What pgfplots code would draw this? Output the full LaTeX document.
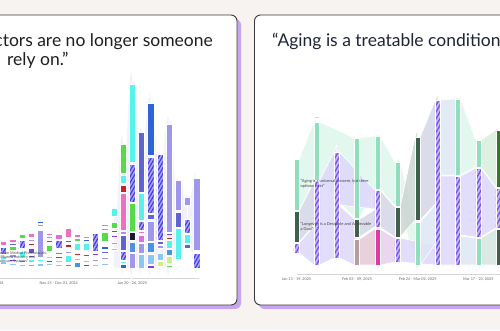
\documentclass[border=0pt]{standalone}
\usepackage{pgfplots}
\pgfplotsset{compat=1.18}
\usetikzlibrary{patterns.meta}
\usepackage{fontspec}
\setmainfont{Lato}
\definecolor{bgc}{HTML}{F7F3F1}
\definecolor{shd}{HTML}{C7A5EF}
\definecolor{brd}{HTML}{3A3A3A}
\definecolor{pk}{HTML}{EE6FC0}
\definecolor{gr}{HTML}{55DB46}
\definecolor{cy}{HTML}{58F2EE}
\definecolor{rd}{HTML}{C42323}
\definecolor{nv}{HTML}{1E1833}
\definecolor{lv}{HTML}{9E97EA}
\definecolor{mb}{HTML}{5E64D2}
\definecolor{bl}{HTML}{3064D6}
\definecolor{bt}{HTML}{4B92E2}
\definecolor{lb}{HTML}{88C8F2}
\definecolor{lm}{HTML}{CDEE82}
\definecolor{pu}{HTML}{7A40E0}
\definecolor{mg}{HTML}{DD6CE6}
\definecolor{hlbase}{HTML}{A9A3F3}
\definecolor{hlline}{HTML}{3B38E8}
\definecolor{mnt}{HTML}{8EE0BD}
\definecolor{dk}{HTML}{40604E}
\definecolor{mgn}{HTML}{DE3AA6}
\definecolor{mv}{HTML}{B59C9E}
\definecolor{mvf}{HTML}{DCCBCD}
\definecolor{kg}{HTML}{2F7C22}
\definecolor{pkl}{HTML}{F0C8D8}
\definecolor{hrbase}{HTML}{C3B5FA}
\definecolor{hrline}{HTML}{7552F0}
\definecolor{mf}{HTML}{DDF6EC}
\definecolor{lf}{HTML}{DFD8FC}
\definecolor{gf}{HTML}{CCD6D2}
\definecolor{pf}{HTML}{F0C9DE}
\definecolor{kgf}{HTML}{D3E7CD}
\definecolor{faint}{HTML}{F0EEFC}
\pgfplotsset{
  sg/.style={fill=#1, draw=white, line width=0.45pt},
  hl/.style={fill=hlbase, draw=white, line width=0.45pt, postaction={pattern={Lines[angle=60,distance=3pt,line width=1.1pt]}, pattern color=hlline}},
  hr/.style={fill=hrbase, draw=white, line width=0.45pt, postaction={pattern={Lines[angle=60,distance=3.4pt,line width=1.3pt]}, pattern color=hrline}},
  fl/.style={fill=#1, draw=white, line width=0.6pt, fill opacity=0.85},
  gd/.style 2 args={fill=#1!50!#2, draw=white, line width=0.6pt, fill opacity=0.85},
}
\newcommand\seg[5]{\addplot[#5] table[header=false,row sep=\\,x expr=#1+\thisrowno{0}*#2,y index=1]{-1 #3\\1 #3\\1 #4\\-1 #4\\} -- cycle;}
\newcommand\lseg[4]{\seg{#1}{0.33}{#2}{#3}{#4}}
\newcommand\rseg[4]{\seg{#1}{0.125}{#2}{#3}{#4}}
\newcommand\band[7]{\addplot[#7, smooth] table[header=false,row sep=\\,x expr={#1+\thisrowno{0}+\thisrowno{1}*(#2-#1)},y index=2]{0 0 #3\\0.125 0 #3\\-0.125 1 #4\\0 1 #4\\0 1 #6\\-0.125 1 #6\\0.125 0 #5\\0 0 #5\\} -- cycle;}
\newcommand\lband[7]{\addplot[#7, smooth] table[header=false,row sep=\\,x expr={#1+\thisrowno{0}+\thisrowno{1}*(#2-#1)},y index=2]{0 0 #3\\0.33 0 #3\\-0.33 1 #4\\0 1 #4\\0 1 #6\\-0.33 1 #6\\0.33 0 #5\\0 0 #5\\} -- cycle;}
\begin{document}
\begin{tikzpicture}
\useasboundingbox (0,0) rectangle (500pt,330pt);
\clip (0,0) rectangle (500pt,330pt);
\begin{scope}[x=1pt,y=1pt]
\fill[bgc] (0,0) rectangle (500,330);
\fill[shd, rounded corners=6pt] (-6,21) rectangle (241,311);
\filldraw[fill=white, draw=brd, line width=0.9pt, rounded corners=6pt] (-10,25) rectangle (237,315);
\fill[shd, rounded corners=6pt] (258.5,21) rectangle (524,311);
\filldraw[fill=white, draw=brd, line width=0.9pt, rounded corners=6pt] (254.5,25) rectangle (520,315);
\node[anchor=base east, inner sep=0, text=black!88, font=\fontsize{17.5}{20}\selectfont] at (213,283) {“Doctors are no longer someone};
\node[anchor=base west, inner sep=0, text=black!88, font=\fontsize{17.5}{20}\selectfont] at (7,264) {rely on.”};
\node[anchor=base west, inner sep=0, text={rgb,255:red,29;green,36;blue,53}, font=\fontsize{17.5}{20}\selectfont] at (272,283) {“Aging is a treatable condition”};
\end{scope}
% ---------------- left chart ----------------
\begin{axis}[at={(-14.9pt,52pt)}, anchor=south west, x=9.2pt, y=1pt,
  xmin=-1, xmax=22.3, ymin=-10, ymax=200, clip=false,
  axis x line*=bottom, axis y line=none,
  xtick={-1,7,15}, xticklabels={{Sep 30 - Oct 06, 2024},{Nov 25 - Dec 01, 2024},{Jan 20 - 26, 2025}},
  major tick length=0pt, x axis line style={draw=black!16, line width=0.9pt, -},
  xticklabel style={font=\fontsize{3.8}{4}\selectfont, text=black!60}]
\lband{13}{14}{60}{124}{0}{0}{fl=faint}
\lband{14}{15}{124}{184}{0}{0}{fl=faint}
\lband{15}{16}{184}{136}{0}{0}{fl=faint}
\lband{16}{17}{136}{165}{0}{0}{fl=faint}
\lband{17}{18}{165}{114}{0}{0}{fl=faint}
\lband{18}{19}{114}{144}{0}{0}{fl=faint}
\lband{19}{20}{144}{88}{0}{9}{fl=faint}
\lband{20}{21}{88}{71}{9}{20}{fl=faint}
\lband{21}{22}{71}{90}{20}{0}{fl=faint}
\lseg{1}{4}{7}{sg=lb}\lseg{1}{9}{12}{sg=cy}\lseg{1}{14}{21}{hl}\lseg{1}{23}{27}{sg=pk}
\lseg{2}{3}{5}{sg=lb}\lseg{2}{7}{9}{sg=pu}\lseg{2}{11}{14}{sg=lv}\lseg{2}{18}{22}{sg=gr}\lseg{2}{23}{25}{sg=mb}\lseg{2}{26}{29}{sg=pk}
\lseg{3}{2}{4}{sg=lb}\lseg{3}{6}{8}{sg=bt}\lseg{3}{11}{17}{sg=cy}\lseg{3}{20}{28}{hl}\lseg{3}{30}{34}{sg=gr}
\lseg{4}{2}{4}{sg=lv}\lseg{4}{6}{9}{sg=cy}\lseg{4}{11}{13}{sg=mb}\lseg{4}{15}{20}{sg=pu}\lseg{4}{23}{25}{sg=rd}\lseg{4}{27}{29}{sg=lv}\lseg{4}{31}{35}{sg=pk}
\lseg{5}{2}{5}{sg=lb}\lseg{5}{7}{9}{sg=cy}\lseg{5}{11}{38}{sg=lv}\lseg{5}{40}{41}{sg=pu}\lseg{5}{42}{44}{sg=pk}\lseg{5}{45}{47}{sg=bl}
\lseg{6}{3}{5}{sg=lb}\lseg{6}{6}{8}{sg=pu}\lseg{6}{10}{12}{sg=cy}\lseg{6}{17}{23}{sg=gr}\lseg{6}{26}{28}{sg=bl}\lseg{6}{30}{32}{sg=lv}\lseg{6}{33}{35}{sg=pk}
\lseg{7}{2}{4}{sg=lb}\lseg{7}{6}{8}{sg=cy}\lseg{7}{10}{12}{sg=pu}\lseg{7}{14}{16}{sg=bt}\lseg{7}{20}{28}{hl}\lseg{7}{29}{34}{sg=mg}
\lseg{8}{2}{4}{sg=bt}\lseg{8}{6}{13}{sg=cy}\lseg{8}{15}{17}{sg=lv}\lseg{8}{21}{24}{sg=rd}\lseg{8}{26}{28}{sg=mb}\lseg{8}{31}{40}{sg=pk}
\lseg{9}{1}{6}{sg=bt}\lseg{9}{8}{10}{sg=lb}\lseg{9}{13}{15}{sg=rd}\lseg{9}{18}{25}{sg=cy}\lseg{9}{27}{30}{sg=gr}\lseg{9}{31}{34}{sg=pk}
\lseg{10}{2}{4}{sg=bl}\lseg{10}{6}{8}{sg=lb}\lseg{10}{12}{14}{sg=pu}\lseg{10}{18}{25}{sg=cy}\lseg{10}{27}{29}{sg=bl}\lseg{10}{30}{32}{sg=gr}
\lseg{11}{2}{4}{sg=lb}\lseg{11}{7}{9}{sg=lv}\lseg{11}{13}{15}{sg=pu}\lseg{11}{17}{35}{hl}
\lseg{12}{3}{5}{sg=lb}\lseg{12}{9}{11}{sg=lv}\lseg{12}{15}{17}{sg=mb}\lseg{12}{19}{22}{sg=bl}\lseg{12}{27}{36}{sg=gr}\lseg{12}{38}{40}{sg=lv}\lseg{12}{42}{44}{sg=lv}
\lseg{13}{18}{20}{sg=lb}\lseg{13}{24}{26}{sg=lv}\lseg{13}{31}{33}{sg=pu}\lseg{13}{36}{38}{sg=bl}\lseg{13}{40}{46}{sg=gr}\lseg{13}{52}{60}{sg=cy}
\lseg{14}{0}{4}{sg=bl}\lseg{14}{5}{7}{sg=cy}\lseg{14}{8}{17}{hl}\lseg{14}{18}{33}{sg=mb}\lseg{14}{34}{37}{sg=lv}\lseg{14}{38}{75}{sg=pk}\lseg{14}{76}{83}{sg=rd}\lseg{14}{85}{93}{sg=cy}\lseg{14}{95}{124}{sg=gr}
\lseg{15}{0}{15}{sg=lv}\lseg{15}{16}{26}{sg=bt}\lseg{15}{28}{36}{sg=nv}\lseg{15}{37}{65}{sg=gr}\lseg{15}{66}{104}{hl}\lseg{15}{106}{184}{sg=cy}
\lseg{16}{0}{14}{sg=lb}\lseg{16}{15}{25}{sg=lv}\lseg{16}{26}{33}{sg=mg}\lseg{16}{35}{37}{sg=pk}\lseg{16}{38}{47}{hl}\lseg{16}{48}{75}{sg=cy}\lseg{16}{76}{136}{sg=mb}
\lseg{17}{0}{3}{sg=pu}\lseg{17}{4}{14}{sg=lb}\lseg{17}{16}{26}{sg=bt}\lseg{17}{27}{47}{sg=lv}\lseg{17}{49}{54}{sg=mb}\lseg{17}{55}{111}{hl}\lseg{17}{113}{165}{sg=bl}
\lseg{18}{2}{7}{sg=lm}\lseg{18}{8}{15}{sg=lb}\lseg{18}{20}{23}{sg=lv}\lseg{18}{24}{27}{sg=mb}\lseg{18}{28}{114}{hl}
\lseg{19}{1}{3}{sg=gr}\lseg{19}{5}{12}{sg=lm}\lseg{19}{13}{19}{sg=bt}\lseg{19}{20}{28}{sg=cy}\lseg{19}{29}{31}{sg=rd}\lseg{19}{33}{35}{sg=pu}\lseg{19}{36}{144}{sg=lv}
\lseg{20}{9}{40}{sg=cy}\lseg{20}{41}{56}{sg=mb}\lseg{20}{58}{88}{sg=lv}
\lseg{21}{20}{24}{sg=mb}\lseg{21}{25}{34}{sg=cy}\lseg{21}{35}{49}{hl}\lseg{21}{63}{71}{sg=lv}
\lseg{22}{0}{15}{hl}\lseg{22}{16}{17}{sg=pu}\lseg{22}{18}{90}{sg=lv}
\end{axis}
% ---------------- right chart ----------------
\begin{axis}[at={(296.5pt,56pt)}, anchor=south west, x=20.2pt, y=1pt,
  xmin=0, xmax=11, ymin=-9, ymax=200, clip=false,
  axis x line*=bottom, axis y line=none,
  xtick={0,3,6,9}, xticklabels={{Jan 13 - 19, 2025},{Feb 03 - 09, 2025},{Feb 24 - Mar 02, 2025},{Mar 17 - 23, 2025}},
  major tick length=0pt, x axis line style={draw=black!16, line width=0.9pt, -},
  xticklabel style={font=\fontsize{3.8}{4}\selectfont, text=black!60}]
\band{0}{1}{106}{143}{55}{85}{fl=mf}
\band{1}{3}{143}{127}{85}{47}{fl=mf}
\band{3}{4}{127}{129}{47}{76}{fl=mf}
\band{4}{5}{129}{103}{76}{59}{fl=mf}
\band{5}{6}{103}{43}{59}{0}{fl=mf}
\band{0}{1}{54}{84}{23}{40}{gd={gf}{lf}}
\band{0}{1}{22}{39}{12}{0}{fl=lf}
\band{1}{2}{84}{113}{0}{7}{fl=lf}
\band{2}{4}{113}{75}{60}{56}{fl=lf}
\band{2}{3}{59}{46}{7}{0}{fl=lf}
\band{3}{4}{46}{55}{28}{38}{gd={gf}{lf}}
\band{3}{4}{26}{36}{0}{0}{gd={mvf}{pf}}
\band{4}{5}{75}{58}{38}{28}{gd={lf}{gf}}
\band{4}{5}{36}{27}{0}{3}{gd={pf}{lf}}
\band{5}{6}{58}{128}{28}{45}{fl=gf}
\band{5}{7}{27}{20}{3}{0}{fl=lf}
\band{6}{7}{43}{60}{0}{21}{gd={mf}{lf}}
\band{6}{7}{128}{165}{45}{61}{gd={gf}{lf}}
\band{7}{8}{165}{166}{90}{90}{gd={lf}{mf}}
\band{7}{8}{89}{89}{0}{0}{fl=lf}
\band{8}{9}{166}{125}{90}{98}{fl=mf}
\band{8}{9}{89}{97}{30}{28}{fl=lf}
\band{8}{9}{29}{27}{0}{0}{gd={lf}{mf}}
\band{9}{10}{125}{135}{98}{78}{gd={mf}{kgf}}
\band{9}{10}{97}{77}{28}{37}{fl=lf}
\band{9}{10}{27}{36}{0}{0}{gd={mf}{gf}}
\rseg{0}{55}{106}{sg=mnt}\rseg{0}{23}{54}{sg=dk}\rseg{0}{12}{22}{hr}
\rseg{1}{147}{149}{sg=pkl}\rseg{1}{85}{143}{sg=mnt}\rseg{1}{0}{84}{hr}
\rseg{2}{7}{113}{hr}
\rseg{3}{47}{127}{sg=mnt}\rseg{3}{28}{46}{sg=dk}\rseg{3}{0}{26}{sg=mv}
\rseg{4}{76}{129}{sg=mnt}\rseg{4}{38}{75}{hr}\rseg{4}{0}{36}{sg=mgn}
\rseg{5}{59}{103}{sg=mnt}\rseg{5}{28}{58}{sg=dk}\rseg{5}{3}{27}{hr}
\rseg{6}{45}{128}{sg=dk}\rseg{6}{0}{43}{sg=mnt}
\rseg{7}{0}{165}{hr}
\rseg{8}{90}{166}{sg=mnt}\rseg{8}{0}{89}{hr}
\rseg{9}{98}{125}{sg=mnt}\rseg{9}{28}{97}{hr}\rseg{9}{0}{27}{sg=mnt}
\rseg{10}{78}{135}{sg=kg}\rseg{10}{37}{77}{hr}\rseg{10}{0}{36}{sg=dk}
\end{axis}
\begin{scope}[x=1pt,y=1pt]
\node[anchor=north west, inner sep=0, align=left, text=black!75, font=\fontsize{4}{4.8}\selectfont] at (300.5,151) {“Aging is a universal concern, but there\\options exist”};
\node[anchor=north west, inner sep=0, align=left, text=black!75, font=\fontsize{4}{4.8}\selectfont] at (300.5,108) {“Longevity is a Desirable and Achievable\\a Goal”};
\node[anchor=north west, inner sep=0, align=left, text=black!70, font=\fontsize{3.8}{4.4}\selectfont] at (-6,79) {st” in the Medical Professionals,\\the Pharma Industry and\\Healthcare Systems”};
\end{scope}
\end{tikzpicture}
\end{document}
